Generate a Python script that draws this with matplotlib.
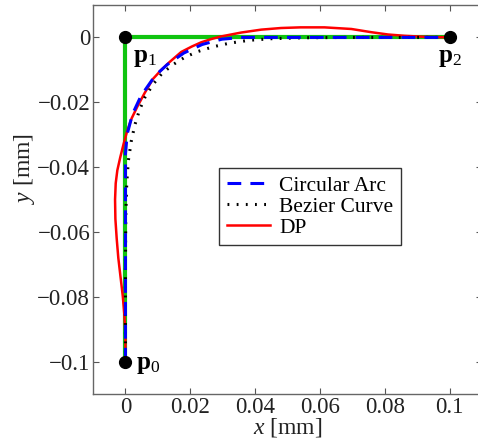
import matplotlib
matplotlib.use("Agg")
import matplotlib.pyplot as plt

plt.rcParams['font.family'] = ['Liberation Serif', 'DejaVu Serif']
plt.rcParams['mathtext.fontset'] = 'custom'
plt.rcParams['mathtext.rm'] = 'Liberation Serif'
plt.rcParams['mathtext.it'] = 'Liberation Serif:italic'
plt.rcParams['mathtext.bf'] = 'Liberation Serif:bold'

# Control polygon p0 -> p1 -> p2
poly_x = [0.0, 0.0, 0.1]
poly_y = [-0.1, 0.0, 0.0]

# Circular arc
arc_x = [0.0, 0.0, 0.00055, 0.00217, 0.00482, 0.00842, 0.01054, 0.01286,
         0.018, 0.02369, 0.02975, 0.036, 0.1]
arc_y = [-0.1, -0.036, -0.02975, -0.02369, -0.018, -0.01286, -0.01054,
         -0.00842, -0.00482, -0.00217, -0.00055, 0.0, 0.0]

# Bezier curve
bez_x = [0.0, 0.0, 0.0001, 0.0004, 0.0009, 0.0018, 0.0029, 0.0043, 0.0060,
         0.0085, 0.0112, 0.0145, 0.0185, 0.0225, 0.027, 0.032, 0.038, 0.045,
         0.055, 0.07, 0.1]
bez_y = [-0.1, -0.07, -0.055, -0.045, -0.038, -0.032, -0.027, -0.0225,
         -0.0185, -0.0145, -0.0112, -0.0085, -0.0060, -0.0043, -0.0029,
         -0.0018, -0.0009, -0.0004, -0.0001, 0.0, 0.0]

# DP curve
dp_x = [0.0, 0.0, -0.0003, -0.0008, -0.0015, -0.0022, -0.0027, -0.0031,
        -0.0032, -0.0030, -0.0025, -0.0016, -0.0006, 0.0005, 0.0019, 0.0037,
        0.0059, 0.0085, 0.0108, 0.0135, 0.0172, 0.0205, 0.0234, 0.0265,
        0.0295, 0.0357, 0.0419, 0.048, 0.054, 0.0614, 0.0697, 0.0759, 0.081,
        0.0861, 0.092, 0.1]
dp_y = [-0.1, -0.092, -0.086, -0.08, -0.074, -0.068, -0.062, -0.056, -0.05,
        -0.045, -0.041, -0.037, -0.033, -0.029, -0.025, -0.0213, -0.0172,
        -0.0128, -0.0103, -0.0077, -0.0045, -0.0028, -0.0015, -0.0005, 0.0003,
        0.0015, 0.0024, 0.0029, 0.0031, 0.0031, 0.0026, 0.0016, 0.0009,
        0.0005, 0.0002, 0.0]

pt_labels = [r'$\mathbf{p}_0$', r'$\mathbf{p}_1$', r'$\mathbf{p}_2$']
xticks = [0, 0.02, 0.04, 0.06, 0.08, 0.1]
xticklabels = ['0', '0.02', '0.04', '0.06', '0.08', '0.1']
yticks = [0, -0.02, -0.04, -0.06, -0.08, -0.1]
yticklabels = ['0', '\u22120.02', '\u22120.04', '\u22120.06', '\u22120.08', '\u22120.1']

fig = plt.figure(figsize=(4.78, 4.42), dpi=100)
ax = fig.add_axes([0.1946, 0.1086, 0.8138, 0.8801])

ax.plot(poly_x, poly_y, color='#10c410', lw=3.0, zorder=1)
l3, = ax.plot(dp_x, dp_y, color='red', lw=1.8, zorder=2, label='DP')
l2, = ax.plot(bez_x, bez_y, color='black', lw=2.2, ls=(0, (0.6, 2.4)),
              dash_capstyle='butt', zorder=3, label='Bezier Curve')
l1, = ax.plot(arc_x, arc_y, color='blue', lw=2.2, ls=(0, (4.5, 3.0)),
              zorder=4, label='Circular Arc')
ax.plot([poly_x[1], poly_x[0], poly_x[2]], [poly_y[1], poly_y[0], poly_y[2]],
        'o', color='black', ms=8.5, zorder=5, ls='none')

ax.text(0.0033, -0.1012, pt_labels[0], fontsize=18, ha='left', va='center')
ax.text(0.0023, -0.0062, pt_labels[1], fontsize=18, ha='left', va='center')
ax.text(0.1, -0.0062, pt_labels[2], fontsize=18, ha='center', va='center')

ax.set_xlim(-0.01, 0.11)
ax.set_ylim(-0.11, 0.01)
ax.set_xticks(xticks)
ax.set_xticklabels(xticklabels)
ax.set_yticks(yticks)
ax.set_yticklabels(yticklabels)
ax.tick_params(direction='in', length=4, width=0.8, colors='#555555',
               labelcolor='#222222', labelsize=16.5, top=True, right=True,
               pad=2)
for s in ax.spines.values():
    s.set_color('#666666')
    s.set_linewidth(1.0)

ax.set_xlabel(r'$x$ [mm]', fontsize=17, color='#222222')
ax.xaxis.set_label_coords(0.5, -0.056)
ax.set_ylabel(r'$y$ [mm]', fontsize=17, color='#222222')
ax.yaxis.set_label_coords(-0.145, 0.58)

leg = ax.legend(handles=[l1, l2, l3], loc='upper left',
                bbox_to_anchor=(0.324, 0.581), borderaxespad=0,
                fontsize=15.5, fancybox=False, framealpha=1, edgecolor='#333333',
                handlelength=2.0, handletextpad=0.45, labelspacing=0.05,
                borderpad=0.35)
leg.get_frame().set_linewidth(1.0)

fig.savefig('out.png', dpi=100)
